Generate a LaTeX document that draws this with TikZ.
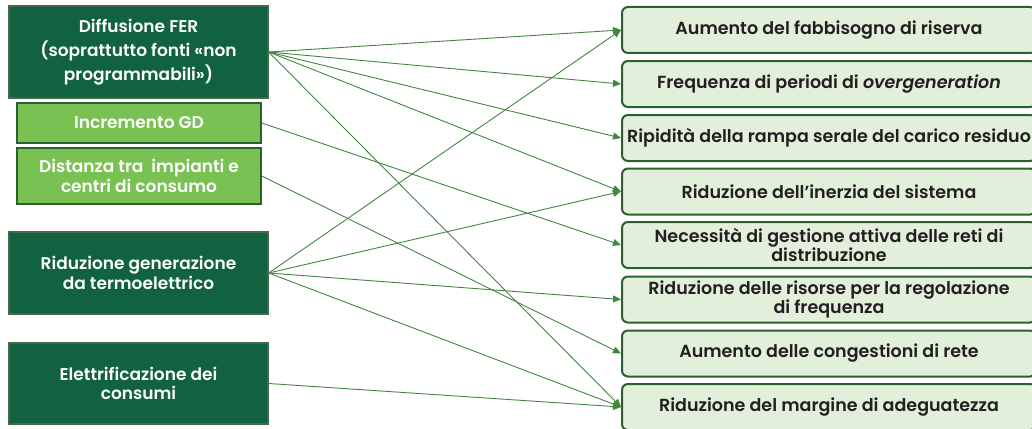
\documentclass[tikz,border=0pt]{standalone}
\usepackage{fontspec}
\setmainfont{Poppins}[BoldFont={Poppins SemiBold}, BoldItalicFont={Poppins SemiBold Italic}]
\definecolor{darkGreen}{RGB}{16, 98, 64}
\definecolor{lightGreen}{RGB}{122, 193, 83}
\definecolor{paleGreen}{RGB}{226, 239, 218}
\definecolor{edgeGreen}{RGB}{44, 96, 48}
\definecolor{arrowGreen}{RGB}{66, 134, 64}
\definecolor{textGray}{RGB}{35, 31, 32}
\usepackage{tikz}
\usetikzlibrary{positioning, arrows.meta}

\begin{document}
\begin{tikzpicture}[
    x=1pt, y=-1pt,
    causebox/.style={rectangle, draw=edgeGreen!70!gray, fill=darkGreen, line width=1.2pt,
                     minimum width=259pt, inner sep=0pt, align=center,
                     text=white, font=\fontsize{17}{19.5}\selectfont\bfseries},
    smallcause/.style={causebox, fill=lightGreen, draw=edgeGreen, line width=1.6pt,
                       minimum width=244pt},
    effectbox/.style={rectangle, draw=edgeGreen, fill=paleGreen, line width=2pt,
                      minimum width=414pt, minimum height=46pt, inner sep=0pt,
                      align=center, rounded corners=6pt, text=textGray,
                      font=\fontsize{17.5}{19}\selectfont\bfseries},
    link/.style={draw=arrowGreen, line width=0.9pt, -{Triangle[length=8pt, width=7pt]}},
  ]
    \useasboundingbox (0,0) rectangle (1032,428);

    % cause
    \node[causebox, minimum height=92pt, font=\fontsize{17}{24}\selectfont\bfseries] (FER) at (138.5,52) {
      Diffusione FER\\
      (soprattutto fonti «non\\
      programmabili»)
    };
    \node[smallcause, minimum height=40pt] (GD) at (139,123) {Incremento GD};
    \node[smallcause, minimum height=56pt, font=\fontsize{17}{20}\selectfont\bfseries] (DIST) at (139,176) {
      Distanza tra~ impianti e\\
      centri di consumo
    };
    \node[causebox, minimum height=82pt] (TERMO) at (138.5,273) {
      Riduzione generazione\\
      da termoelettrico
    };
    \node[causebox, minimum height=81pt] (ELET) at (138.5,383.5) {
      Elettrificazione dei\\
      consumi
    };

    % effetti
    \node[effectbox] (RIS) at (829,30) {Aumento del fabbisogno di riserva};
    \node[effectbox] (OVER) at (829,84) {Frequenza di periodi di \textit{overgeneration}};
    \node[effectbox] (RAMPA) at (829,138) {Ripidità della rampa serale del carico residuo};
    \node[effectbox] (INER) at (829,191.5) {Riduzione dell’inerzia del sistema};
    \node[effectbox] (RETI) at (829,245) {Necessità di gestione attiva delle reti di\\distribuzione};
    \node[effectbox] (FREQ) at (829,299.5) {Riduzione delle risorse per la regolazione\\di frequenza};
    \node[effectbox] (CONG) at (829,353.5) {Aumento delle congestioni di rete};
    \node[effectbox] (ADEG) at (829,407) {Riduzione del margine di adeguatezza};

    % collegamenti
    \foreach \t in {RIS, OVER, RAMPA, INER, ADEG}
      \draw[link] (FER.east) -- (\t.west);
    \draw[link] (GD.east) -- (RETI.west);
    \draw[link] (DIST.east) -- (CONG.west);
    \foreach \t in {RIS, INER, FREQ, ADEG}
      \draw[link] (TERMO.east) -- (\t.west);
    \draw[link] (ELET.east) -- (ADEG.west);
  \end{tikzpicture}
\end{document}
